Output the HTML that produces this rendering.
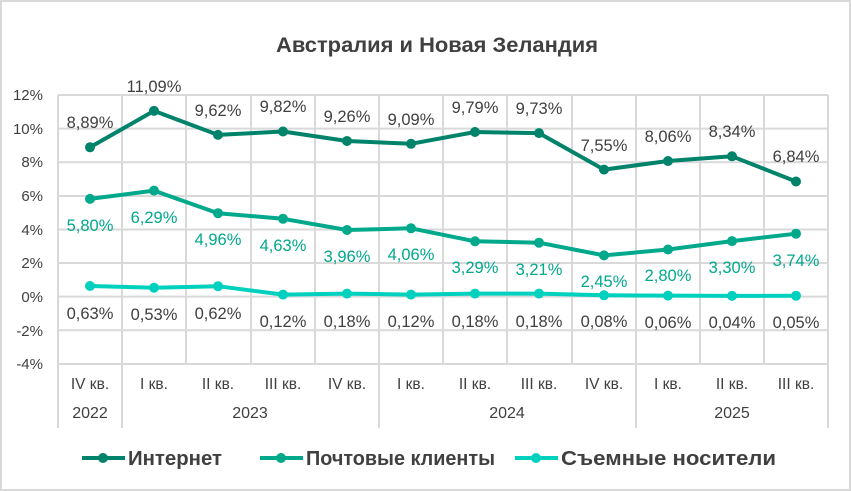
<!DOCTYPE html>
<html><head><meta charset="utf-8"><style>
body{margin:0;background:#fff;}
svg{display:block;font-family:"Liberation Sans",sans-serif;}
</style></head><body>
<svg width="851" height="491" viewBox="0 0 851 491" xmlns="http://www.w3.org/2000/svg">
<rect x="1" y="1" width="849" height="489" fill="#fff" stroke="#d9d9d9" stroke-width="2"/>
<text x="437" y="52" text-anchor="middle" font-size="21" font-weight="bold" fill="#404040" textLength="322" lengthAdjust="spacingAndGlyphs">Австралия и Новая Зеландия</text>
<g stroke="#d9d9d9" stroke-width="2">
<line x1="58" x2="828" y1="95" y2="95"/><line x1="58" x2="828" y1="128.6" y2="128.6"/>
<line x1="58" x2="828" y1="162.3" y2="162.3"/><line x1="58" x2="828" y1="196" y2="196"/>
<line x1="58" x2="828" y1="229.5" y2="229.5"/><line x1="58" x2="828" y1="263" y2="263"/>
<line x1="58" x2="828" y1="296.6" y2="296.6"/><line x1="58" x2="828" y1="330.3" y2="330.3"/>
<line x1="58" x2="828" y1="364" y2="364"/>
<line x1="58" x2="58" y1="95" y2="428"/><line x1="122" x2="122" y1="95" y2="428"/>
<line x1="186" x2="186" y1="95" y2="364"/><line x1="251" x2="251" y1="95" y2="364"/>
<line x1="315" x2="315" y1="95" y2="364"/><line x1="379" x2="379" y1="95" y2="428"/>
<line x1="443" x2="443" y1="95" y2="364"/><line x1="507" x2="507" y1="95" y2="364"/>
<line x1="572" x2="572" y1="95" y2="364"/><line x1="636" x2="636" y1="95" y2="428"/>
<line x1="700" x2="700" y1="95" y2="364"/><line x1="764" x2="764" y1="95" y2="364"/>
<line x1="828" x2="828" y1="95" y2="428"/>
</g>
<g font-size="15" fill="#404040" text-anchor="end">
<text x="43" y="100">12%</text><text x="43" y="134">10%</text><text x="43" y="167">8%</text>
<text x="43" y="201">6%</text><text x="43" y="235">4%</text><text x="43" y="268">2%</text>
<text x="43" y="302">0%</text><text x="43" y="336">-2%</text><text x="43" y="369">-4%</text>
</g>
<g font-size="15.5" fill="#404040" text-anchor="middle">
<text x="90" y="389">IV кв.</text><text x="154" y="389">I кв.</text><text x="218" y="389">II кв.</text>
<text x="283" y="389">III кв.</text><text x="347" y="389">IV кв.</text><text x="411" y="389">I кв.</text>
<text x="475" y="389">II кв.</text><text x="539" y="389">III кв.</text><text x="604" y="389">IV кв.</text>
<text x="668" y="389">I кв.</text><text x="732" y="389">II кв.</text><text x="796" y="389">III кв.</text>
<text x="90" y="418" font-size="16">2022</text><text x="250" y="418" font-size="16">2023</text>
<text x="507" y="418" font-size="16">2024</text><text x="732" y="418" font-size="16">2025</text>
</g>
<polyline fill="none" stroke="#00836b" stroke-width="4" stroke-linejoin="round" points="90,147.3 154,110.9 218,134.9 283,131.5 347,141 411,143.8 475,132 539,133.1 604,169.6 668,161 732,156.3 796,181.5"/>
<polyline fill="none" stroke="#00a88c" stroke-width="4" stroke-linejoin="round" points="90,198.9 154,190.6 218,213.2 283,218.8 347,230 411,228.3 475,241.3 539,242.7 604,255.4 668,249.5 732,241.1 796,233.7"/>
<polyline fill="none" stroke="#00d1be" stroke-width="4" stroke-linejoin="round" points="90,286 154,287.7 218,286.2 283,294.6 347,293.6 411,294.6 475,293.6 539,293.6 604,295.3 668,295.6 732,295.9 796,295.8"/>
<g fill="#00836b"><circle cx="90" cy="147.3" r="5"/><circle cx="154" cy="110.9" r="5"/><circle cx="218" cy="134.9" r="5"/><circle cx="283" cy="131.5" r="5"/><circle cx="347" cy="141" r="5"/><circle cx="411" cy="143.8" r="5"/><circle cx="475" cy="132" r="5"/><circle cx="539" cy="133.1" r="5"/><circle cx="604" cy="169.6" r="5"/><circle cx="668" cy="161" r="5"/><circle cx="732" cy="156.3" r="5"/><circle cx="796" cy="181.5" r="5"/></g>
<g fill="#00a88c"><circle cx="90" cy="198.9" r="5"/><circle cx="154" cy="190.6" r="5"/><circle cx="218" cy="213.2" r="5"/><circle cx="283" cy="218.8" r="5"/><circle cx="347" cy="230" r="5"/><circle cx="411" cy="228.3" r="5"/><circle cx="475" cy="241.3" r="5"/><circle cx="539" cy="242.7" r="5"/><circle cx="604" cy="255.4" r="5"/><circle cx="668" cy="249.5" r="5"/><circle cx="732" cy="241.1" r="5"/><circle cx="796" cy="233.7" r="5"/></g>
<g fill="#00d1be"><circle cx="90" cy="286" r="5"/><circle cx="154" cy="287.7" r="5"/><circle cx="218" cy="286.2" r="5"/><circle cx="283" cy="294.6" r="5"/><circle cx="347" cy="293.6" r="5"/><circle cx="411" cy="294.6" r="5"/><circle cx="475" cy="293.6" r="5"/><circle cx="539" cy="293.6" r="5"/><circle cx="604" cy="295.3" r="5"/><circle cx="668" cy="295.6" r="5"/><circle cx="732" cy="295.9" r="5"/><circle cx="796" cy="295.8" r="5"/></g>
<g font-size="16.5" fill="#404040" text-anchor="middle">
<text x="90" y="128">8,89%</text><text x="154" y="92">11,09%</text><text x="218" y="116">9,62%</text>
<text x="283" y="112">9,82%</text><text x="347" y="122">9,26%</text><text x="411" y="125">9,09%</text>
<text x="475" y="113">9,79%</text><text x="539" y="114">9,73%</text><text x="604" y="151">7,55%</text>
<text x="668" y="142">8,06%</text><text x="732" y="137">8,34%</text><text x="796" y="162">6,84%</text>
</g>
<g font-size="16.5" fill="#00a88c" text-anchor="middle">
<text x="90" y="231">5,80%</text><text x="154" y="223">6,29%</text><text x="218" y="245">4,96%</text>
<text x="283" y="251">4,63%</text><text x="347" y="262">3,96%</text><text x="411" y="260">4,06%</text>
<text x="475" y="273">3,29%</text><text x="539" y="275">3,21%</text><text x="604" y="287">2,45%</text>
<text x="668" y="281">2,80%</text><text x="732" y="273">3,30%</text><text x="796" y="266">3,74%</text>
</g>
<g font-size="16.5" fill="#404040" text-anchor="middle">
<text x="90" y="319">0,63%</text><text x="154" y="320">0,53%</text><text x="218" y="319">0,62%</text>
<text x="283" y="327">0,12%</text><text x="347" y="327">0,18%</text><text x="411" y="327">0,12%</text>
<text x="475" y="327">0,18%</text><text x="539" y="327">0,18%</text><text x="604" y="327">0,08%</text>
<text x="668" y="328">0,06%</text><text x="732" y="328">0,04%</text><text x="796" y="328">0,05%</text>
</g>
<g font-size="20" font-weight="bold" fill="#404040">
<line x1="82" x2="125" y1="458" y2="458" stroke="#00836b" stroke-width="4"/><circle cx="103" cy="458" r="5" fill="#00836b"/>
<text x="128" y="465" textLength="94" lengthAdjust="spacingAndGlyphs">Интернет</text>
<line x1="260" x2="303" y1="458" y2="458" stroke="#00a88c" stroke-width="4"/><circle cx="281" cy="458" r="5" fill="#00a88c"/>
<text x="306" y="465" textLength="189" lengthAdjust="spacingAndGlyphs">Почтовые клиенты</text>
<line x1="515" x2="558" y1="458" y2="458" stroke="#00d1be" stroke-width="4"/><circle cx="536" cy="458" r="5" fill="#00d1be"/>
<text x="561" y="465" textLength="215" lengthAdjust="spacingAndGlyphs">Съемные носители</text>
</g>
</svg>
</body></html>
